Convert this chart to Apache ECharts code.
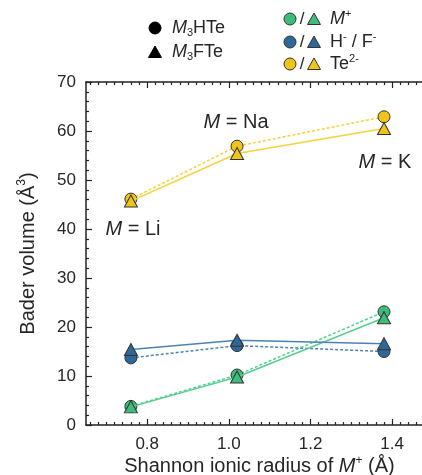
<!DOCTYPE html>
<html><head><meta charset="utf-8">
<script src="https://cdn.jsdelivr.net/npm/echarts@6/dist/echarts.min.js"></script>
<style>html,body{margin:0;padding:0;background:#fff}#c{width:422px;height:475px}</style>
</head><body><div id="c"></div>
<script>
// Shannon ionic radius of M+ (Li, Na, K)
const radius = [0.76, 1.02, 1.38];
// Bader volumes (Å^3)
const cationHTe = [3.8, 10.2, 23.1];
const cationFTe = [3.7, 9.8, 21.9];
const anionHTe = [13.7, 16.2, 15.0];
const anionFTe = [15.4, 17.3, 16.6];
const teHTe = [46.1, 56.9, 62.9];
const teFTe = [45.7, 55.4, 60.5];
// tick values
const xMajorTicks = [0.8, 1.0, 1.2, 1.4];
const xMinorTicks = [];
for (let i = 0; i <= 41; i++) {
  const v = Math.round((0.66 + 0.02 * i) * 100) / 100;
  if (xMajorTicks.indexOf(v) < 0) xMinorTicks.push(v);
}
const yTicks = [0, 10, 20, 30, 40, 50, 60, 70];

const FONT = 'Liberation Sans, Arial, Helvetica, sans-serif';
const TXT = '#262626';
const EDGE = '#333333';
const COL = {
  green: {fill: '#3dbd79', line: '#58cf8e'},
  blue: {fill: '#2e6899', line: '#4e82b1'},
  yellow: {fill: '#f0c419', line: '#f5d13c'}
};

function mk(name, vals, c, symbol, dashed, z) {
  return {
    name: name, type: 'line', xAxisIndex: 0, yAxisIndex: 0,
    data: radius.map((x, i) => [x, vals[i]]),
    symbol: symbol,
    symbolSize: symbol === 'circle' ? 12 : [13, 12],
    showAllSymbol: true,
    z: z,
    lineStyle: {color: c.line, width: 1.5, type: dashed ? [3, 2] : 'solid'},
    itemStyle: {color: c.fill, borderColor: EDGE, borderWidth: 1},
    emphasis: {disabled: true}
  };
}

const axisLineStyle = {color: '#222', width: 1.5};
function xAx(pos, ticks, len, main) {
  return {
    type: 'value', min: 0.65, max: 1.5, position: pos,
    axisLine: {show: main, lineStyle: axisLineStyle},
    axisTick: {show: true, inside: true, length: len, customValues: ticks, lineStyle: {color: '#222', width: 1.2}},
    axisLabel: pos === 'bottom' && main ? {
      customValues: xMajorTicks, formatter: v => v.toFixed(1),
      fontSize: 17, color: TXT, fontFamily: FONT, margin: 11
    } : {show: false},
    splitLine: {show: false}
  };
}
const xAxes = [
  xAx('bottom', xMajorTicks, 6, true),
  xAx('bottom', xMinorTicks, 3, false),
  xAx('top', xMajorTicks, 6, true),
  xAx('top', xMinorTicks, 3, false)
];
Object.assign(xAxes[0], {
  name: 'Shannon ionic radius of {i|M}{sup|+} (Å)',
  nameLocation: 'middle', nameGap: 30, nameMoveOverlap: false,
  nameTextStyle: {
    fontSize: 20, color: TXT, fontFamily: FONT,
    rich: {
      i: {fontSize: 20, fontStyle: 'italic', color: TXT, fontFamily: FONT},
      sup: {fontSize: 12, color: TXT, fontFamily: FONT, verticalAlign: 'top', lineHeight: 22}
    }
  }
});

const option = {
  animation: false,
  backgroundColor: '#fff',
  grid: {left: 86, top: 82, width: 347, height: 343, containLabel: false, outerBoundsMode: 'none'},
  xAxis: xAxes,
  yAxis: [{
    type: 'value', min: 0, max: 70, interval: 10, position: 'left',
    axisLine: {show: true, lineStyle: axisLineStyle},
    axisTick: {show: true, inside: true, length: 6, lineStyle: {color: '#222', width: 1.2}},
    minorTick: {show: true, splitNumber: 5, length: 3, lineStyle: {color: '#222', width: 1.2}},
    axisLabel: {fontSize: 17, color: TXT, fontFamily: FONT, margin: 10,
      formatter: v => yTicks.indexOf(v) >= 0 ? String(v) : ''},
    splitLine: {show: false},
    name: 'Bader volume (Å{sup|3})',
    nameLocation: 'middle', nameGap: 46, nameMoveOverlap: false,
    nameTextStyle: {
      fontSize: 20, color: TXT, fontFamily: FONT,
      rich: {
        sup: {fontSize: 12, color: TXT, fontFamily: FONT, verticalAlign: 'top', lineHeight: 24}
      }
    }
  }],
  series: [
    mk('M+ HTe', cationHTe, COL.green, 'circle', true, 3),
    mk('M+ FTe', cationFTe, COL.green, 'triangle', false, 4),
    mk('H-', anionHTe, COL.blue, 'circle', true, 3),
    mk('F-', anionFTe, COL.blue, 'triangle', false, 4),
    mk('Te HTe', teHTe, COL.yellow, 'circle', true, 3),
    mk('Te FTe', teFTe, COL.yellow, 'triangle', false, 4)
  ],
  graphic: []
};

function richText(text, x, y, align, size) {
  return {
    type: 'text', x: x, y: y, z: 10,
    style: {
      text: text, align: align, verticalAlign: 'middle',
      fontSize: size, fontFamily: FONT, fill: TXT,
      rich: {
        n: {fontSize: size, fontFamily: FONT, fill: TXT, color: TXT},
        i: {fontSize: size, fontStyle: 'italic', fontFamily: FONT, fill: TXT, color: TXT},
        sub: {fontSize: 11, fontFamily: FONT, fill: TXT, color: TXT, verticalAlign: 'bottom', lineHeight: size + 2},
        sup: {fontSize: 11, fontFamily: FONT, fill: TXT, color: TXT, verticalAlign: 'top', lineHeight: size + 4}
      }
    }
  };
}
function tri(cx, cy, fill, stroke) {
  return {type: 'polygon', z: 10, shape: {points: [[cx - 6.5, cy + 5.5], [cx + 6.5, cy + 5.5], [cx, cy - 6]]},
    style: {fill: fill, stroke: stroke, lineWidth: 1}};
}
function circ(cx, cy, fill, stroke) {
  return {type: 'circle', z: 10, shape: {cx: cx, cy: cy, r: 6}, style: {fill: fill, stroke: stroke, lineWidth: 1}};
}
const G = option.graphic;
// left legend
G.push(circ(155, 28, '#000', '#000'));
G.push(richText('{i|M}{sub|3}{n|HTe}', 172, 28, 'left', 18));
G.push(tri(155, 52, '#000', '#000'));
G.push(richText('{i|M}{sub|3}{n|FTe}', 172, 52, 'left', 18));
// right legend
const rows = [
  [19, COL.green, '{i|M}{sup|+}'],
  [42, COL.blue, '{n|H}{sup|-}{n| / F}{sup|-}'],
  [64, COL.yellow, '{n|Te}{sup|2-}']
];
rows.forEach(r => {
  G.push(circ(290, r[0], r[1].fill, EDGE));
  G.push(richText('/', 302, r[0], 'center', 17));
  G.push(tri(314, r[0], r[1].fill, EDGE));
  G.push(richText(r[2], 330, r[0], 'left', 18));
});
// annotations
G.push(richText('{i|M}{n| = Na}', 236, 122, 'center', 20));
G.push(richText('{i|M}{n| = Li}', 133, 229, 'center', 20));
G.push(richText('{i|M}{n| = K}', 385, 162, 'center', 20));

const chart = echarts.init(document.getElementById('c'), null, {renderer: 'canvas'});
chart.setOption(option);
</script></body></html>
